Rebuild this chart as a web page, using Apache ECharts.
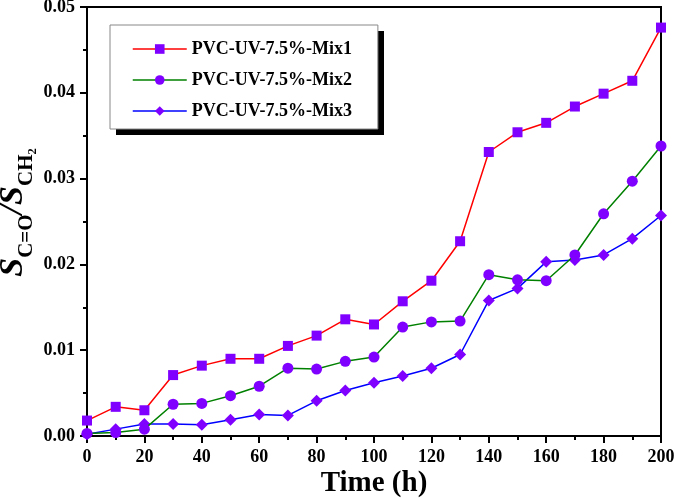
<!DOCTYPE html>
<html>
<head>
<meta charset="utf-8">
<script src="https://cdn.jsdelivr.net/npm/echarts@6/dist/echarts.min.js"></script>
<style>html,body{margin:0;padding:0;background:#fff;}#c{width:675px;height:498px;}</style>
</head>
<body>
<div id="c"></div>
<script>
var times = [0,10,20,30,40,50,60,70,80,90,100,110,120,130,140,150,160,170,180,190,200];
var mix1 = [0.0018,0.0034,0.0030,0.0071,0.0082,0.0090,0.0090,0.0105,0.0117,0.0136,0.0130,0.0157,0.0181,0.0227,0.0331,0.0354,0.0365,0.0384,0.0399,0.0414,0.0476];
var mix2 = [0.0003,0.0004,0.0008,0.0037,0.0038,0.0047,0.0058,0.0079,0.0078,0.0087,0.0092,0.0127,0.0133,0.0134,0.0188,0.0182,0.0181,0.0211,0.0259,0.0297,0.0338];
var mix3 = [0.0002,0.0008,0.0014,0.0014,0.0013,0.0019,0.0025,0.0024,0.0041,0.0053,0.0062,0.0070,0.0079,0.0095,0.0158,0.0172,0.0203,0.0205,0.0211,0.0230,0.0257];
var names = ['PVC-UV-7.5%-Mix1','PVC-UV-7.5%-Mix2','PVC-UV-7.5%-Mix3'];
var lineColors = ['#ff0000','#008000','#0000ff'];
var symbols = ['rect','circle','diamond'];
var symbolSizes = [10,11,12];
var markerColor = '#7f00ff';
var FONT = '"Liberation Serif","Times New Roman",serif';

function pairs(arr){ return times.map(function(t,i){ return [t, arr[i]]; }); }
var allData = [mix1, mix2, mix3];

var chart = echarts.init(document.getElementById('c'), null, {renderer:'canvas'});
var series = allData.map(function(d, i){
  return {
    name: names[i], type: 'line', data: pairs(d),
    symbol: symbols[i], symbolSize: symbolSizes[i], showAllSymbol: true,
    lineStyle: {color: lineColors[i], width: 1.5},
    itemStyle: {color: markerColor, borderWidth: 0},
    color: lineColors[i],
    z: 3 - i,
    animation: false
  };
});

chart.setOption({
  backgroundColor: '#fff',
  animation: false,
  grid: {left: 87, right: 14, top: 7, bottom: 62, show: true, borderColor: '#000', borderWidth: 2, backgroundColor: 'transparent', containLabel: false, outerBoundsMode: 'none'},
  graphic: [{
    type: 'rect', left: 116, top: 31, z: 0, silent: true,
    shape: {width: 268, height: 104},
    style: {fill: '#000'}
  }],
  legend: {
    orient: 'vertical', left: 110, top: 25, z: 10,
    padding: [15, 26, 9, 22],
    itemWidth: 54, itemHeight: 12, itemGap: 13,
    backgroundColor: '#fff', borderColor: '#888', borderWidth: 1,
    textStyle: {fontFamily: FONT, fontWeight: 'bold', fontSize: 18, color: '#000'},
    data: names.map(function(n, i){
      return {name: n, itemStyle: {color: markerColor}, lineStyle: {color: lineColors[i], width: 1.5}};
    })
  },
  xAxis: {
    type: 'value', min: 0, max: 200, interval: 20,
    name: 'Time (h)', nameLocation: 'middle', nameGap: 33, nameMoveOverlap: false,
    nameTextStyle: {fontFamily: FONT, fontWeight: 'bold', fontSize: 29, color: '#000'},
    axisLine: {show: true, lineStyle: {color: '#000', width: 2}},
    axisTick: {show: true, inside: false, length: 7, lineStyle: {color: '#000', width: 2}},
    minorTick: {show: true, splitNumber: 2, length: 4, lineStyle: {color: '#000', width: 2}},
    axisLabel: {fontFamily: FONT, fontWeight: 'bold', fontSize: 18, color: '#000', margin: 12},
    splitLine: {show: false}
  },
  yAxis: {
    type: 'value', min: 0, max: 0.05, interval: 0.01,
    name: '{s|S}{sub|C=O}{s|/S}{sub|CH₂}', nameLocation: 'middle', nameGap: 50, nameRotate: 90, nameMoveOverlap: false,
    nameTextStyle: {
      fontFamily: FONT, color: '#000', padding: [0, 0, 0, 18],
      rich: {
        s: {fontFamily: FONT, fontWeight: 'bold', fontStyle: 'italic', fontSize: 34, color: '#000', verticalAlign: 'bottom', padding: [0,0,7,0]},
        sub: {fontFamily: FONT, fontWeight: 'bold', fontSize: 21, color: '#000', verticalAlign: 'bottom'}
      }
    },
    axisLine: {show: true, lineStyle: {color: '#000', width: 2}},
    axisTick: {show: true, inside: false, length: 7, lineStyle: {color: '#000', width: 2}},
    minorTick: {show: true, splitNumber: 2, length: 4, lineStyle: {color: '#000', width: 2}},
    axisLabel: {fontFamily: FONT, fontWeight: 'bold', fontSize: 18, color: '#000', margin: 12,
      formatter: function(v){ return v === 0 ? '0.00' : v.toFixed(2); }},
    splitLine: {show: false}
  },
  series: series
});
</script>
</body>
</html>
